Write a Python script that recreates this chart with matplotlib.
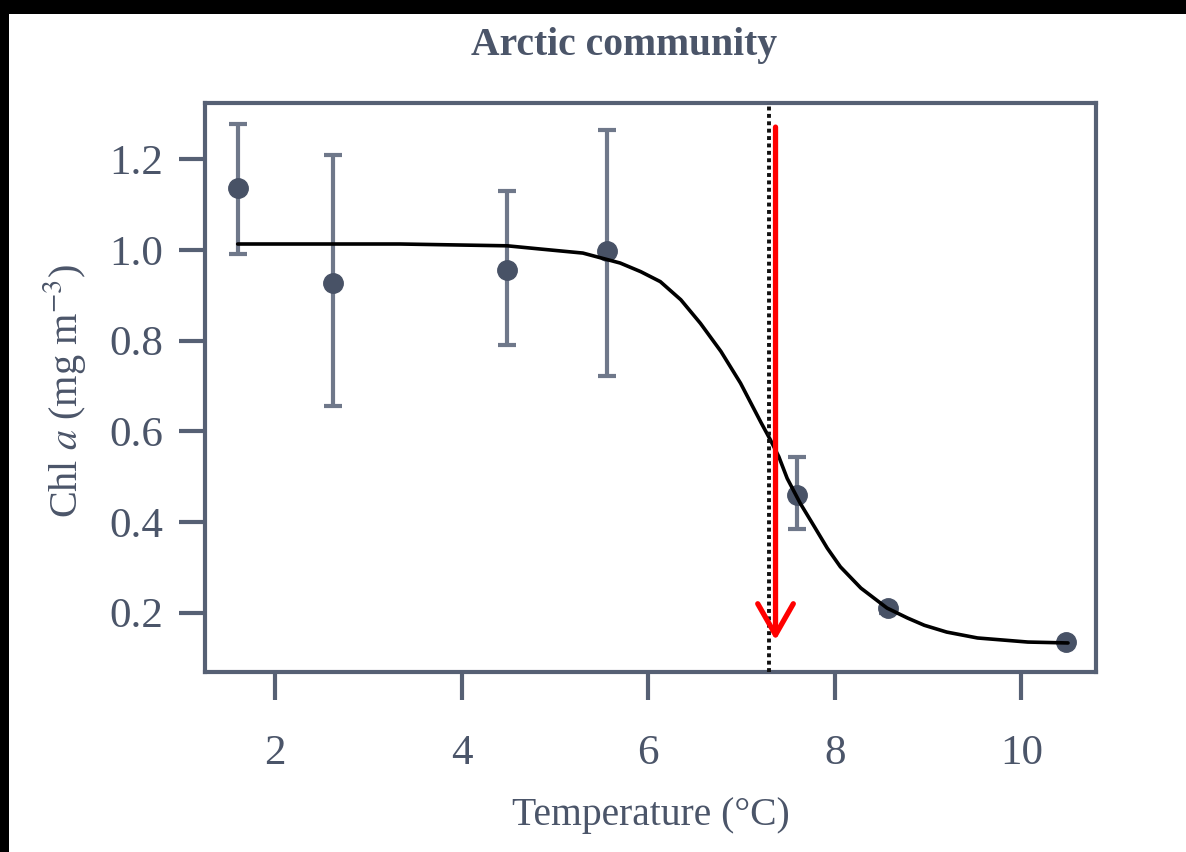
import matplotlib.pyplot as plt
from matplotlib.patches import Rectangle

# data
temp = [1.60, 2.62, 4.49, 5.56, 7.60, 8.57, 10.48]
chl = [1.137, 0.927, 0.956, 0.998, 0.460, 0.210, 0.135]
err_hi = [1.278, 1.209, 1.130, 1.265, 0.543, 0.220, 0.140]
err_lo = [0.991, 0.656, 0.790, 0.721, 0.384, 0.200, 0.130]

# fitted curve, traced point by point
fit_x = [1.60, 3.34, 4.49, 4.84, 5.30, 5.70, 5.92, 6.13, 6.35, 6.56, 6.78, 6.99,
         7.21, 7.31, 7.40, 7.49, 7.63, 7.78, 7.92, 8.06, 8.28, 8.56, 8.78, 8.96,
         9.20, 9.53, 10.07, 10.50]
fit_y = [1.013, 1.013, 1.009, 1.002, 0.993, 0.971, 0.952, 0.930, 0.890, 0.838, 0.776, 0.706,
         0.619, 0.581, 0.544, 0.496, 0.441, 0.390, 0.342, 0.301, 0.254, 0.210, 0.188, 0.172,
         0.157, 0.144, 0.135, 0.133]

threshold = 7.30
arrow_x = 7.365
arrow_top = 1.277
arrow_tip = 0.133

xticks = [2, 4, 6, 8, 10]
yticks = [0.2, 0.4, 0.6, 0.8, 1.0, 1.2]

txt = '#4b5569'
spine = '#566074'

plt.rcParams['font.family'] = ['Liberation Serif', 'DejaVu Serif']
plt.rcParams['mathtext.fontset'] = 'stix'

fig = plt.figure(figsize=(11.86, 8.52), dpi=100, facecolor='black')
# white page with the black border at top and left
fig.patches.append(Rectangle((9 / 1186, 0), 1, 1 - 14 / 852, transform=fig.transFigure,
                             facecolor='white', edgecolor='none', zorder=-1))

ax = fig.add_axes([0.1728, 0.2113, 0.7513, 0.6678])
ax.set_zorder(1)
ax.set_xlim(1.249, 10.80)
ax.set_ylim(0.069, 1.324)

ax.errorbar(temp, chl, yerr=[[c - l for c, l in zip(chl, err_lo)],
                             [h - c for c, h in zip(chl, err_hi)]],
            fmt='none', ecolor='#6f788a', elinewidth=3, capsize=6.5, capthick=3, zorder=2)
ax.plot(temp, chl, 'o', color='#485266', ms=14, zorder=3)
ax.plot(fit_x, fit_y, color='black', lw=2.6, solid_joinstyle='round',
        solid_capstyle='round', zorder=4)

ax.axvline(threshold, color='#111111', lw=2.8, linestyle=(0, (1, 0.9)), zorder=5)
ax.annotate('', xy=(arrow_x, arrow_tip), xytext=(arrow_x, arrow_top),
            arrowprops=dict(arrowstyle='->,head_length=0.7,head_width=0.4',
                            color='red', lw=3.8, mutation_scale=32), zorder=6)

ax.set_xticks(xticks)
ax.set_xticklabels([str(v) for v in xticks])
ax.set_yticks(yticks)
ax.set_yticklabels(['%.1f' % v for v in yticks])
ax.tick_params(axis='x', length=20, width=3, color=spine, labelcolor=txt,
               labelsize=31, pad=25)
ax.tick_params(axis='y', length=19, width=3, color=spine, labelcolor=txt,
               labelsize=31, pad=11)
for s in ax.spines.values():
    s.set_color(spine)
    s.set_linewidth(3)

fig.text(0.526, 0.947, 'Arctic community', ha='center', va='center',
         fontsize=28.5, fontweight='bold', color=txt)
fig.text(0.549, 0.0434, 'Temperature (°C)', ha='center', va='center',
         fontsize=28.5, color=txt)
fig.text(0.0548, 0.541, 'Chl $\\it{a}$ (mg m$^{-3}$)', ha='center', va='center',
         rotation=90, fontsize=29, color=txt)

fig.savefig('out.png', dpi=100, facecolor=fig.get_facecolor())
